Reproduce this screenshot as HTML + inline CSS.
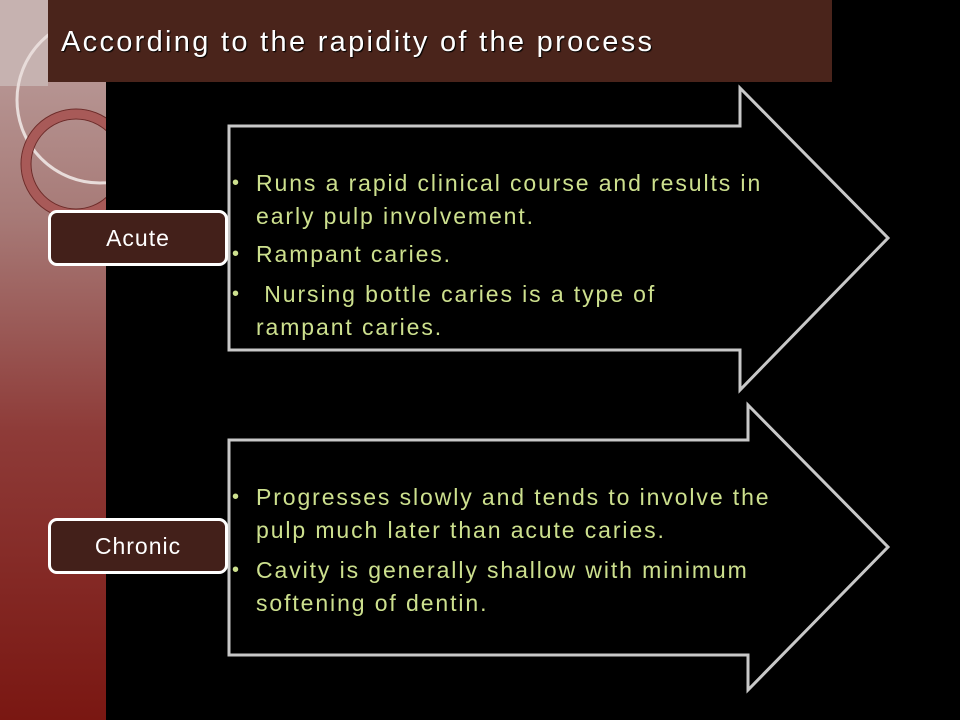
<!DOCTYPE html>
<html><head><style>
body{margin:0;width:960px;height:720px;background:#000;position:relative;overflow:hidden;font-family:"Liberation Sans",sans-serif}
.side{position:absolute;left:0;top:0;width:106px;height:720px;background:linear-gradient(#bfa4a2 0%,#a77a77 30%,#8e3b38 60%,#7a1712 100%)}
.title{position:absolute;left:48px;top:0;width:784px;height:82px;background:#4a241b;color:#fff;font-size:29px;letter-spacing:2.3px;line-height:84px;padding-left:13px;box-sizing:border-box;text-shadow:1px 1px 1px #000;white-space:nowrap}
.box{position:absolute;left:48px;width:180px;height:56px;background:#43201a;border:3px solid #fff;border-radius:9px;box-sizing:border-box;color:#fff;font-size:23px;letter-spacing:1px;text-align:center;line-height:50px}
.t{position:absolute;left:232px;color:#cde08e;font-size:23px;letter-spacing:1.9px;line-height:33px;white-space:nowrap}
.t div{position:relative;padding-left:24px}
.t div:before{content:"•";position:absolute;left:0;font-size:20px;color:#cde08e}
</style></head><body>
<div class="side"></div>
<svg style="position:absolute;left:0;top:0" width="106" height="280">
<rect x="0" y="0" width="48" height="86" fill="#c6b2b0"/>
<circle cx="100" cy="100" r="83" fill="none" stroke="#e8dcda" stroke-width="3"/>
<circle cx="76" cy="164" r="50" fill="none" stroke="#a85a58" stroke-width="9"/>
<circle cx="76" cy="164" r="55" fill="none" stroke="#6e2a28" stroke-width="1"/>
<circle cx="76" cy="164" r="45" fill="none" stroke="#6e2a28" stroke-width="1"/>
</svg>
<div class="title">According to the rapidity of the process</div>
<svg style="position:absolute;left:0;top:0" width="960" height="720">
<polygon points="229,126 740,126 740,88 888,238 740,390 740,350 229,350" fill="#000" stroke="#c8c8c8" stroke-width="3"/>
<polygon points="229,440 748,440 748,405 888,547 748,690 748,655 229,655" fill="#000" stroke="#c8c8c8" stroke-width="3"/>
</svg>
<div class="box" style="top:210px">Acute</div>
<div class="box" style="top:518px">Chronic</div>
<div class="t" style="top:167px">
<div>Runs a rapid clinical course and results in<br>early pulp involvement.</div>
<div style="margin-top:5px">Rampant caries.</div>
<div style="margin-top:7px">&nbsp;Nursing bottle caries is a type of<br>rampant caries.</div>
</div>
<div class="t" style="top:481px">
<div>Progresses slowly and tends to involve the<br>pulp much later than acute caries.</div>
<div style="margin-top:7px">Cavity is generally shallow with minimum<br>softening of dentin.</div>
</div>
</body></html>
